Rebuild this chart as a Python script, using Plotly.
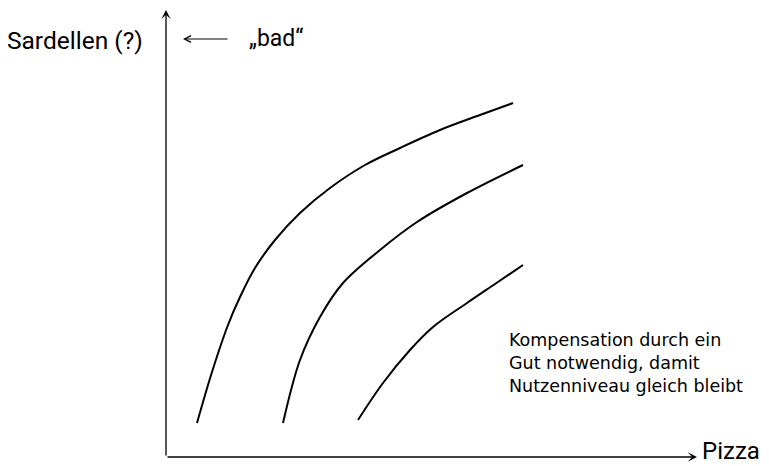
import plotly.graph_objects as go

# Indifferenzkurven (Pizza vs. Sardellen)
kurve1_x = [0.62, 0.92, 1.24, 1.48, 1.78, 2.18, 2.68, 3.28, 3.98, 4.68, 5.48, 6.28, 6.94]
kurve1_y = [0.68, 1.70, 2.64, 3.20, 3.78, 4.34, 4.88, 5.38, 5.84, 6.18, 6.54, 6.84, 7.08]

kurve2_x = [2.34, 2.68, 3.08, 3.54, 4.28, 5.02, 6.02, 7.14]
kurve2_y = [0.68, 1.94, 2.80, 3.48, 4.14, 4.70, 5.28, 5.84]

kurve3_x = [3.84, 4.34, 4.88, 5.34, 6.02, 6.58, 7.14]
kurve3_y = [0.74, 1.48, 2.14, 2.60, 3.08, 3.46, 3.84]

x_label = "Pizza"
y_label = "Sardellen (?)"
bad_label = "„bad“"
hinweis = ["Kompensation durch ein", "Gut notwendig, damit", "Nutzenniveau gleich bleibt"]

X_MAX = 10.62
Y_MAX = 8.94
FONT = "Roboto"

fig = go.Figure()
for xs, ys in [(kurve1_x, kurve1_y), (kurve2_x, kurve2_y), (kurve3_x, kurve3_y)]:
    fig.add_trace(go.Scatter(x=xs, y=ys, mode="lines", line=dict(color="black", width=2, shape="spline"),
                             showlegend=False, hoverinfo="skip"))

ann = []
# Achsen als Pfeile
ann.append(dict(x=X_MAX, y=0, ax=0, ay=0, xref="x", yref="y", axref="x", ayref="y", text="",
                showarrow=True, arrowhead=3, arrowsize=1.2, arrowwidth=1.3, arrowcolor="black"))
ann.append(dict(x=0, y=Y_MAX, ax=0, ay=0, xref="x", yref="y", axref="x", ayref="y", text="",
                showarrow=True, arrowhead=3, arrowsize=1.2, arrowwidth=1.3, arrowcolor="black"))
# kleiner Pfeil zu "bad"
ann.append(dict(x=0.34, y=8.36, ax=1.26, ay=8.36, xref="x", yref="y", axref="x", ayref="y", text="",
                showarrow=True, arrowhead=5, arrowsize=1.3, arrowwidth=1, arrowcolor="black"))
ann.append(dict(x=1.62, y=8.38, xref="x", yref="y", text=bad_label, showarrow=False, xanchor="left",
                font=dict(size=23, color="black", family=FONT)))
ann.append(dict(x=-0.0395, y=0.931, xref="paper", yref="paper", text=y_label, showarrow=False,
                xanchor="right", yanchor="middle", font=dict(size=24.5, color="black", family=FONT)))
ann.append(dict(x=1.0056, y=0.0134, xref="paper", yref="paper", text=x_label, showarrow=False,
                xanchor="left", yanchor="middle", font=dict(size=24, color="black", family=FONT)))
ann.append(dict(x=6.82, y=1.88, xref="x", yref="y", text="<br>".join(hinweis), showarrow=False,
                xanchor="left", yanchor="middle", align="left",
                font=dict(size=17.5, color="black", family="DejaVu Sans")))

fig.update_layout(
    width=761, height=458,
    margin=dict(l=158, r=72, t=2, b=9),
    paper_bgcolor="white", plot_bgcolor="white",
    xaxis=dict(range=[0, X_MAX], visible=False, fixedrange=True),
    yaxis=dict(range=[0, Y_MAX], visible=False, fixedrange=True),
    annotations=ann,
)

fig.write_html("out.html")
